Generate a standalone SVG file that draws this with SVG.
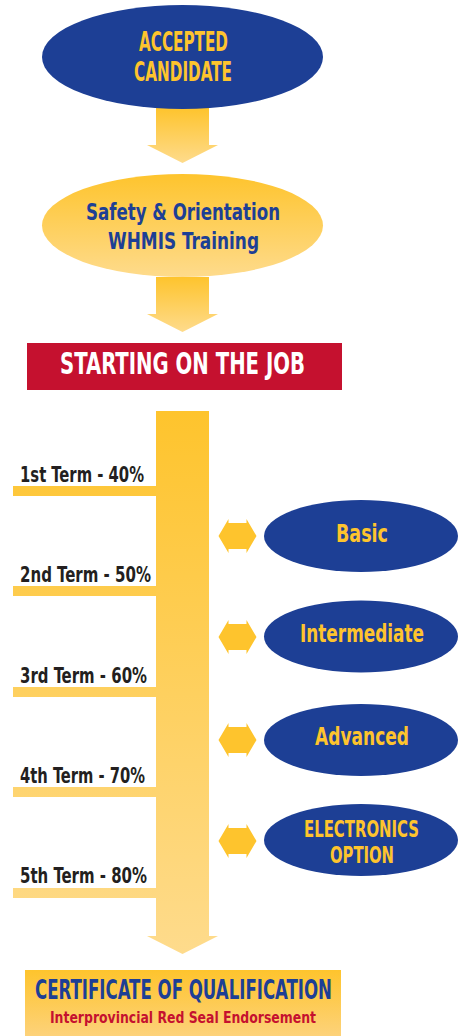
<svg xmlns="http://www.w3.org/2000/svg" width="458" height="1036" viewBox="0 0 458 1036">
<style>
.t{font-family:"Liberation Sans Narrow","DejaVu Sans Condensed","Liberation Sans",sans-serif;font-weight:bold}
.blue{fill:#1d3f95}
.yel{fill:#fec42d}
.dark{fill:#231f20}
.wh{fill:#ffffff}
.red{fill:#c5112f}
.dbl{fill:#fec42d}
</style>
<defs>
<linearGradient id="ga" x1="0" y1="0" x2="0" y2="1"><stop offset="0" stop-color="#fec42d"/><stop offset="1" stop-color="#fedb8c"/></linearGradient>
<linearGradient id="gbar" gradientUnits="userSpaceOnUse" x1="0" y1="411" x2="0" y2="953"><stop offset="0" stop-color="#fec42d"/><stop offset="1" stop-color="#fedb8c"/></linearGradient>
<linearGradient id="gcert" x1="0" y1="0" x2="0" y2="1"><stop offset="0" stop-color="#fec42d"/><stop offset="1" stop-color="#fdd27a"/></linearGradient>
<polygon id="dbl" points="-19,0 -9,-17 -9,-13 9,-13 9,-17 19,0 9,17 9,13 -9,13 -9,17"/>
</defs>

<g id="connectors">
<polygon points="156,108 209,108 209,145 218,145 182.5,163 147,145 156,145" fill="url(#ga)"/>
<polygon points="156,277 209,277 209,314 218,314 182.5,332 147,314 156,314" fill="url(#ga)"/>
<polygon points="156,411 209,411 209,936 218,936 182.5,954 147,936 156,936" fill="url(#gbar)"/>
<g fill="url(#gbar)">
<rect x="13" y="486" width="143" height="10"/>
<rect x="13" y="586" width="143" height="10"/>
<rect x="13" y="687" width="143" height="10"/>
<rect x="13" y="787" width="143" height="10"/>
<rect x="13" y="888" width="143" height="10"/>
</g>
<use href="#dbl" x="237.5" y="536" class="dbl"/>
<use href="#dbl" x="237.5" y="637" class="dbl"/>
<use href="#dbl" x="237.5" y="740" class="dbl"/>
<use href="#dbl" x="237.5" y="841" class="dbl"/>
</g>

<g id="accepted">
<ellipse cx="182.5" cy="57" rx="140.5" ry="52" class="blue"/>
<text class="t yel" x="139" y="51" font-size="26" textLength="89" lengthAdjust="spacingAndGlyphs">ACCEPTED</text>
<text class="t yel" x="134" y="81" font-size="26" textLength="98" lengthAdjust="spacingAndGlyphs">CANDIDATE</text>
</g>

<g id="safety">
<ellipse cx="182.5" cy="225.5" rx="140.5" ry="51.5" fill="url(#ga)"/>
<text class="t blue" x="86" y="220" font-size="23" textLength="194" lengthAdjust="spacingAndGlyphs">Safety &amp; Orientation</text>
<text class="t blue" x="108" y="249" font-size="23" textLength="151" lengthAdjust="spacingAndGlyphs">WHMIS Training</text>
</g>

<g id="starting">
<rect x="27" y="343" width="315" height="47" class="red"/>
<text class="t wh" x="60" y="374" font-size="30" textLength="245" lengthAdjust="spacingAndGlyphs">STARTING ON THE JOB</text>
</g>

<g id="terms">
<text class="t dark" x="20" y="482" font-size="21" textLength="124" lengthAdjust="spacingAndGlyphs">1st Term - 40%</text>
<text class="t dark" x="20" y="582" font-size="21" textLength="131" lengthAdjust="spacingAndGlyphs">2nd Term - 50%</text>
<text class="t dark" x="20" y="683" font-size="21" textLength="127" lengthAdjust="spacingAndGlyphs">3rd Term - 60%</text>
<text class="t dark" x="20" y="783" font-size="21" textLength="125" lengthAdjust="spacingAndGlyphs">4th Term - 70%</text>
<text class="t dark" x="20" y="883" font-size="21" textLength="127" lengthAdjust="spacingAndGlyphs">5th Term - 80%</text>
</g>

<g id="basic">
<ellipse cx="361" cy="536" rx="97" ry="36" class="blue"/>
<text class="t yel" x="336" y="542" font-size="24" textLength="52" lengthAdjust="spacingAndGlyphs">Basic</text>
</g>
<g id="intermediate">
<ellipse cx="361" cy="636.5" rx="97" ry="36" class="blue"/>
<text class="t yel" x="300" y="642" font-size="24" textLength="124" lengthAdjust="spacingAndGlyphs">Intermediate</text>
</g>
<g id="advanced">
<ellipse cx="361" cy="740" rx="97" ry="36" class="blue"/>
<text class="t yel" x="315" y="745" font-size="24" textLength="94" lengthAdjust="spacingAndGlyphs">Advanced</text>
</g>
<g id="electronics">
<ellipse cx="361" cy="840" rx="97" ry="36" class="blue"/>
<text class="t yel" x="304" y="837" font-size="23" textLength="115" lengthAdjust="spacingAndGlyphs">ELECTRONICS</text>
<text class="t yel" x="330" y="863" font-size="23" textLength="64" lengthAdjust="spacingAndGlyphs">OPTION</text>
</g>

<g id="certificate">
<rect x="25" y="970" width="316" height="66" fill="url(#gcert)"/>
<text class="t blue" x="35" y="999" font-size="26" textLength="297" lengthAdjust="spacingAndGlyphs">CERTIFICATE OF QUALIFICATION</text>
<text class="t red" x="50" y="1023" font-size="16" textLength="266" lengthAdjust="spacingAndGlyphs">Interprovincial Red Seal Endorsement</text>
</g>
</svg>
